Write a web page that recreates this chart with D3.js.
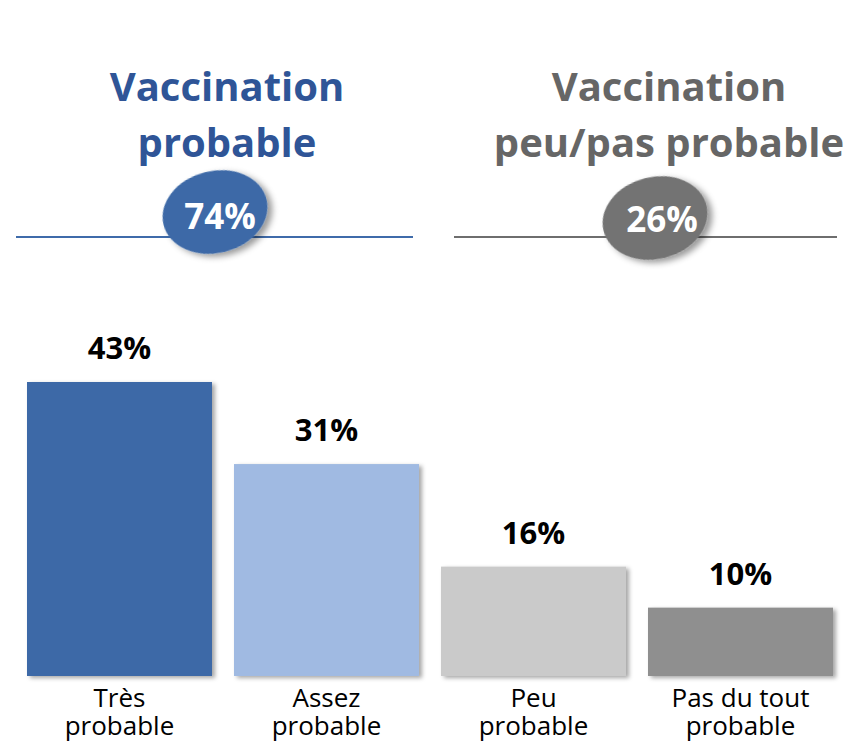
<!DOCTYPE html>
<html>
<head>
<meta charset="utf-8">
<script src="https://cdn.jsdelivr.net/npm/d3@7"></script>
<style>
  body { margin: 0; background: #fff; }
  svg { display: block; font-family: "Open Sans", "Noto Sans", sans-serif; }
</style>
</head>
<body>
<div id="chart"></div>
<script>
// data
var categories = [["Très", "probable"], ["Assez", "probable"], ["Peu", "probable"], ["Pas du tout", "probable"]];
var values = [43, 31, 16, 10];
var groupTitles = [["Vaccination", "probable"], ["Vaccination", "peu/pas probable"]];
var groupValues = [74, 26];

// styles
var barColors = ["#3D69A7", "#A0BAE2", "#CACACA", "#8F8F8F"];
var groupColors = ["#2F5597", "#666666"];
var ellipseColors = ["#3C69A7", "#737373"];
var lineColors = ["#3F6BAA", "#6E6E6E"];

var svgWidth = 847;
var svgHeight = 744;

var svg = d3.select("#chart")
  .append("svg")
  .attr("width", svgWidth)
  .attr("height", svgHeight);

var defs = svg.append("defs");
defs.append("filter")
  .attr("id", "shadow")
  .attr("x", "-20%").attr("y", "-20%")
  .attr("width", "140%").attr("height", "140%")
  .append("feDropShadow")
  .attr("dx", 3).attr("dy", 2)
  .attr("stdDeviation", 2)
  .attr("flood-color", "#000")
  .attr("flood-opacity", 0.35);

defs.append("filter")
  .attr("id", "shadowBig")
  .attr("x", "-30%").attr("y", "-30%")
  .attr("width", "160%").attr("height", "160%")
  .append("feDropShadow")
  .attr("dx", 4).attr("dy", 4)
  .attr("stdDeviation", 3)
  .attr("flood-color", "#000")
  .attr("flood-opacity", 0.4);

// scales
var x = d3.scaleBand()
  .domain(d3.range(values.length))
  .range([27, 833])
  .paddingInner(22 / 207)
  .paddingOuter(0);

var y = d3.scaleLinear()
  .domain([0, 43])
  .range([676, 382]);

// bars
svg.append("g")
  .selectAll("rect")
  .data(values)
  .enter()
  .append("rect")
  .attr("x", (d, i) => x(i))
  .attr("y", d => y(d))
  .attr("width", x.bandwidth())
  .attr("height", d => y(0) - y(d))
  .attr("fill", (d, i) => barColors[i])
  .attr("filter", "url(#shadow)");

// value labels
svg.append("g")
  .selectAll("text")
  .data(values)
  .enter()
  .append("text")
  .attr("x", (d, i) => x(i) + x.bandwidth() / 2)
  .attr("y", d => y(d) - 23)
  .attr("text-anchor", "middle")
  .attr("font-size", "31px")
  .attr("font-weight", "bold")
  .attr("fill", "#000")
  .text(d => d + "%");

// category labels
var catText = svg.append("g")
  .selectAll("text")
  .data(categories)
  .enter()
  .append("text")
  .attr("text-anchor", "middle")
  .attr("font-size", "26px")
  .attr("fill", "#000");

catText.selectAll("tspan")
  .data((d, i) => d.map(t => ({ t: t, i: i })))
  .enter()
  .append("tspan")
  .attr("x", d => x(d.i) + x.bandwidth() / 2)
  .attr("y", (d, j) => 707 + j * 28)
  .text(d => d.t);

// group headers
var headers = [
  { titleX: 227, ellX: 215, ellY: 212, rot: -14, lineX1: 16, lineX2: 413, textX: 220, textY: 229 },
  { titleX: 669, ellX: 655, ellY: 218, rot: -14, lineX1: 454, lineX2: 837, textX: 662, textY: 232 }
];

headers.forEach(function(h, i) {
  var g = svg.append("g");

  g.append("line")
    .attr("x1", h.lineX1)
    .attr("x2", h.lineX2)
    .attr("y1", 237)
    .attr("y2", 237)
    .attr("stroke", lineColors[i])
    .attr("stroke-width", 2);

  var title = g.append("text")
    .attr("text-anchor", "middle")
    .attr("font-size", "40px")
    .attr("font-weight", "bold")
    .attr("fill", groupColors[i]);

  groupTitles[i].forEach(function(t, j) {
    title.append("tspan")
      .attr("x", h.titleX)
      .attr("y", 101 + j * 56)
      .text(t);
  });

  g.append("ellipse")
    .attr("cx", h.ellX)
    .attr("cy", h.ellY)
    .attr("rx", 53)
    .attr("ry", 41)
    .attr("transform", `rotate(${h.rot}, ${h.ellX}, ${h.ellY})`)
    .attr("fill", ellipseColors[i])
    .attr("filter", "url(#shadowBig)");

  g.append("text")
    .attr("x", h.textX)
    .attr("y", h.textY)
    .attr("text-anchor", "middle")
    .attr("font-size", "35px")
    .attr("font-weight", "bold")
    .attr("fill", "#fff")
    .text(groupValues[i] + "%");
});
</script>
</body>
</html>
